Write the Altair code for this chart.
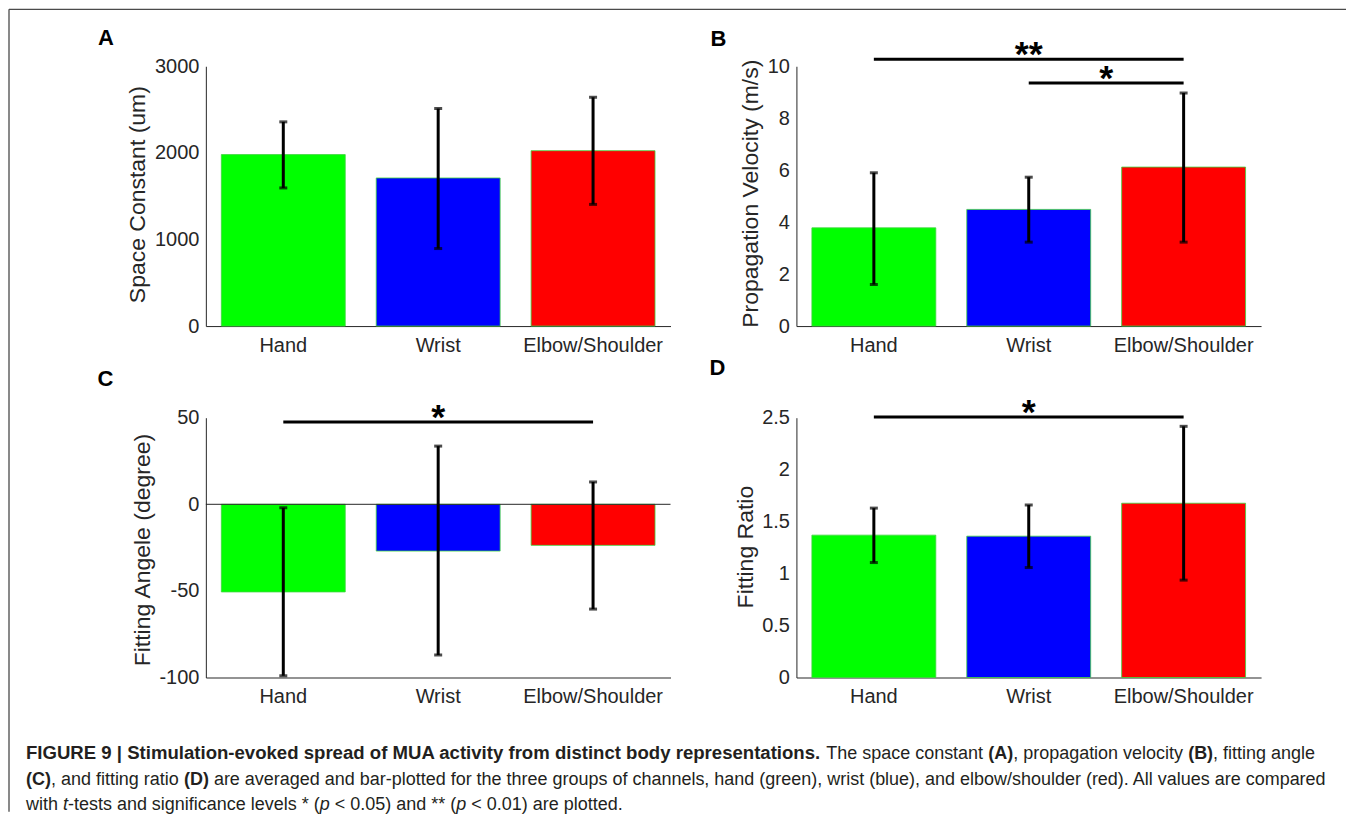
import altair as alt
import pandas as pd

# ---------------- data ----------------
groups = ["Hand", "Wrist", "Elbow/Shoulder"]
bar_colors = ["#00ff00", "#0000ff", "#ff0000"]

space_mean = [1980, 1710, 2025]
space_lo = [1595, 895, 1405]
space_hi = [2358, 2512, 2642]

vel_mean = [3.78, 4.49, 6.12]
vel_lo = [1.60, 3.23, 3.23]
vel_hi = [5.90, 5.73, 8.97]

angle_mean = [-50.6, -27.0, -23.7]
angle_lo = [-99.0, -87.0, -60.5]
angle_hi = [-2.0, 33.6, 12.9]

ratio_mean = [1.37, 1.36, 1.677]
ratio_lo = [1.106, 1.058, 0.937]
ratio_hi = [1.63, 1.66, 2.417]

# significance brackets (group index from / to, bracket height, label)
sig_B = {"start": [0, 1], "end": [2, 2], "level": [10.27, 9.36], "label": ["**", "*"]}
sig_C = {"start": [0], "end": [2], "level": [47.5], "label": ["*"]}
sig_D = {"start": [0], "end": [2], "level": [2.507], "label": ["*"]}

caption_lines = [
    [("FIGURE 9 | Stimulation-evoked spread of MUA activity from distinct body representations.", "bold", "normal"),
     (" The space constant ", "normal", "normal"),
     ("(A)", "bold", "normal"),
     (", propagation velocity ", "normal", "normal"),
     ("(B)", "bold", "normal"),
     (", fitting angle", "normal", "normal")],
    [("(C)", "bold", "normal"),
     (", and fitting ratio ", "normal", "normal"),
     ("(D)", "bold", "normal"),
     (" are averaged and bar-plotted for the three groups of channels, hand (green), wrist (blue), "
      "and elbow/shoulder (red). All values are compared", "normal", "normal")],
    [("with ", "normal", "normal"),
     ("t", "normal", "italic"),
     ("-tests and significance levels * (", "normal", "normal"),
     ("p", "normal", "italic"),
     (" < 0.05) and ** (", "normal", "normal"),
     ("p", "normal", "italic"),
     (" < 0.01) are plotted.", "normal", "normal")],
]

# ---------------- layout / style ----------------
PW, PH = 465, 260
COL_GAP, ROW_GAP = 126, 91.7
LEFT0, TOP0 = 205, 65          # page position of panel A's plot area
INK = "#262626"
FONT = "Liberation Sans, Arial, Helvetica, sans-serif"
one = pd.DataFrame({"k": [0]})

# Arial-compatible advance widths (1/1000 em) for caption layout
_REG = dict(zip("abcdefghijklmnopqrstuvwxyz",
                [556, 556, 500, 556, 556, 278, 556, 556, 222, 222, 500, 222, 833, 556, 556, 556, 556, 333, 500, 278, 556, 500, 722, 500, 500, 500]))
_REG.update(zip("ABCDEFGHIJKLMNOPQRSTUVWXYZ",
                [667, 667, 722, 722, 667, 611, 778, 722, 278, 500, 667, 556, 833, 722, 778, 667, 778, 722, 667, 611, 722, 667, 944, 667, 667, 611]))
_REG.update({" ": 278, "(": 333, ")": 333, ",": 278, ".": 278, "-": 333, "/": 278, "*": 389, "<": 584, "|": 260})
_REG.update({d: 556 for d in "0123456789"})
_BLD = dict(zip("abcdefghijklmnopqrstuvwxyz",
                [556, 611, 556, 611, 556, 333, 611, 611, 278, 278, 556, 278, 889, 611, 611, 611, 611, 389, 556, 333, 611, 556, 778, 556, 556, 500]))
_BLD.update(zip("ABCDEFGHIJKLMNOPQRSTUVWXYZ",
                [722, 722, 722, 722, 667, 611, 778, 722, 278, 556, 722, 611, 833, 722, 778, 667, 778, 722, 667, 611, 722, 667, 944, 667, 667, 611]))
_BLD.update({" ": 278, "(": 333, ")": 333, ",": 278, ".": 278, "-": 333, "/": 278, "*": 389, "<": 584, "|": 280})
_BLD.update({d: 556 for d in "0123456789"})


def text_width(s, weight, size):
    table = _BLD if weight == "bold" else _REG
    return sum(table.get(c, 556) for c in s) * size / 1000.0


def x_band():
    return alt.X("group:N", sort=groups,
                 scale=alt.Scale(type="band", paddingInner=0.2, paddingOuter=0.1),
                 axis=alt.Axis(title=None, labelAngle=0, ticks=False, labelPadding=9,
                               labelFontSize=20, labelColor=INK, labelFont=FONT,
                               domainColor=INK, domainWidth=1))


def panel(mean, lo, hi, title, domain, ticks, sig, letter, letter_pos, title_pos,
          zero_line=False, frame=False):
    df = pd.DataFrame({"group": groups, "mean": mean, "lo": lo, "hi": hi, "color": bar_colors})
    ysc = alt.Scale(domain=domain, nice=False, zero=False)
    yax = alt.Axis(title=title, values=ticks, ticks=False, grid=False, labelPadding=7,
                   labelFontSize=20, labelColor=INK, labelFont=FONT,
                   labelExpr="datum.value + ''", domainColor=INK, domainWidth=1,
                   titleAngle=270, titleX=title_pos[0], titleY=title_pos[1],
                   titleAlign="center", titleBaseline="alphabetic", titleFontSize=23,
                   titleFontWeight="normal", titleColor=INK, titleFont=FONT)

    def Y(field):
        return alt.Y(field, type="quantitative", scale=ysc, axis=yax)

    base = alt.Chart(df)
    layers = [base.mark_bar(stroke="#3fd43f", strokeWidth=0.8).encode(
        x=x_band(), y=Y("mean"), y2=alt.datum(0), color=alt.Color("color:N", scale=None))]
    if zero_line:
        layers.append(alt.Chart(one).mark_rule(color=INK, strokeWidth=1).encode(
            y=alt.Y(datum=0, type="quantitative", scale=ysc, axis=yax)))
    layers += [
        base.mark_rule(color="black", strokeWidth=3).encode(x=x_band(), y=Y("lo"), y2="hi"),
        base.mark_tick(color="black", thickness=3, size=8).encode(x=x_band(), y=Y("hi")),
        base.mark_tick(color="black", thickness=3, size=8).encode(x=x_band(), y=Y("lo")),
    ]
    parts = [alt.layer(*layers)]

    if sig is not None:
        sdf = pd.DataFrame(sig)
        sxs = alt.Scale(domain=[-0.5, 2.5], nice=False, zero=False)
        sig_lines = alt.Chart(sdf).mark_rule(color="black", strokeWidth=3).encode(
            x=alt.X("start:Q", scale=sxs, axis=None), x2="end:Q", y=Y("level"))
        sig_text = alt.Chart(sdf).transform_calculate(mid="(datum.start + datum.end) / 2").mark_text(
            font=FONT, fontSize=36, fontWeight="bold", dy=7, baseline="alphabetic",
            align="center", color="black").encode(
            x=alt.X("mid:Q", scale=sxs, axis=None), y=Y("level"), text="label:N")
        parts.append(alt.layer(sig_lines, sig_text))

    parts.append(alt.Chart(one).mark_text(font=FONT, fontSize=22, fontWeight="bold", color="black",
                                          align="center", baseline="middle").encode(
        x=alt.value(letter_pos[0]), y=alt.value(letter_pos[1]), text=alt.value(letter)))
    if frame:
        fx, fy = 8 - LEFT0, 8 - TOP0
        parts.append(alt.Chart(one).mark_rule(color="#4a4a4a", strokeWidth=1.3).encode(
            x=alt.value(fx), x2=alt.value(1346 - LEFT0), y=alt.value(fy)))
        parts.append(alt.Chart(one).mark_rule(color="#4a4a4a", strokeWidth=1.3).encode(
            x=alt.value(fx), y=alt.value(fy), y2=alt.value(811 - TOP0)))

    return alt.layer(*parts).resolve_scale(x="independent").properties(width=PW, height=PH)


pA = panel(space_mean, space_lo, space_hi, "Space Constant (um)", [0, 3000], [0, 1000, 2000, 3000],
           None, letter="A", letter_pos=(-100, -28), title_pos=(-61, 128), frame=True)
pB = panel(vel_mean, vel_lo, vel_hi, "Propagation Velocity (m/s)", [0, 10], [0, 2, 4, 6, 8, 10],
           sig_B, letter="B", letter_pos=(-78, -27), title_pos=(-38.5, 127))
pC = panel(angle_mean, angle_lo, angle_hi, "Fitting Angele (degree)", [-100, 50], [-100, -50, 0, 50],
           sig_C, letter="C", letter_pos=(-100.5, -38.7), title_pos=(-56, 132), zero_line=True)
pD = panel(ratio_mean, ratio_lo, ratio_hi, "Fitting Ratio", [0, 2.5], [0, 0.5, 1, 1.5, 2, 2.5],
           sig_D, letter="D", letter_pos=(-79, -50), title_pos=(-44, 129))

# ---------------- caption ----------------
CAP_Y0 = TOP0 + 2 * PH + 2 * ROW_GAP
baselines = [758, 784, 809.5]
cap_layers = []
for line, yb in zip(caption_lines, baselines):
    x = 25.0
    for k, (seg, weight, style) in enumerate(line):
        size = 18.6 if (weight == "bold" and k == 0 and len(seg) > 20) else 18
        lead = len(seg) - len(seg.lstrip(" "))
        shown = seg.strip(" ")
        sx = x + text_width(" " * lead, weight, size)
        cap_layers.append(alt.Chart(one).mark_text(
            font=FONT, fontSize=size, fontWeight=weight, fontStyle=style, color="#231f20",
            align="left", baseline="alphabetic").encode(
            x=alt.value(sx - LEFT0), y=alt.value(yb - CAP_Y0), text=alt.value(shown)))
        x += text_width(seg, weight, size)
caption = alt.layer(*cap_layers).properties(width=PW, height=20)

chart = alt.concat(pA, pB, pC, pD, caption, columns=2,
                   spacing={"row": ROW_GAP, "column": COL_GAP}, bounds="flush").properties(
    padding=0).configure_view(stroke=None)

chart.save("out.html", embed_options={"renderer": "svg", "actions": False})
